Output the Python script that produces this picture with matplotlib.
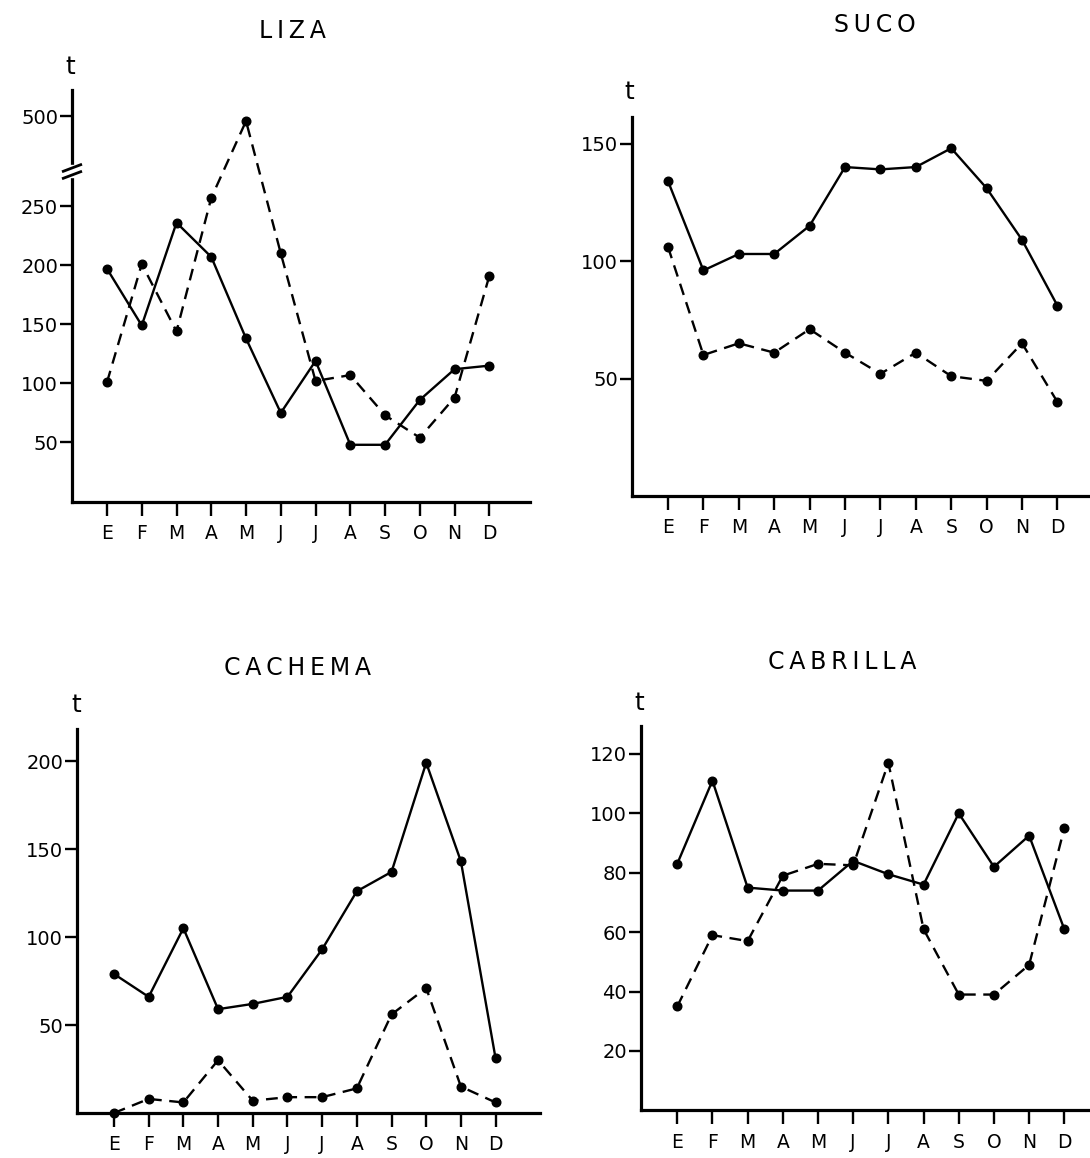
import matplotlib

matplotlib.use("Agg")
import matplotlib.pyplot as plt
import numpy as np
from matplotlib.patches import Rectangle

plt.rcParams["font.family"] = ["DejaVu Sans"]

# meses del año (inicial)
meses = ["E", "F", "M", "A", "M", "J", "J", "A", "S", "O", "N", "D"]

# desembarques mensuales (t): linea continua y linea discontinua
liza_cont = [197, 149, 236, 207, 138, 75, 119, 48, 48, 86, 112, 115]
liza_disc = [101, 201, 144, 257, 496, 210, 102, 107, 73, 54, 88, 191]
liza_ticks = [50, 100, 150, 200, 250, 500]

suco_cont = [134, 96, 103, 103, 115, 140, 139, 140, 148, 131, 109, 81]
suco_disc = [106, 60, 65, 61, 71, 61, 52, 61, 51, 49, 65, 40]
suco_ticks = [50, 100, 150]

cachema_cont = [79, 66, 105, 59, 62, 66, 93, 126, 137, 199, 143, 31]
cachema_disc = [0, 8, 6, 30, 7, 9, 9, 14, 56, 71, 15, 6]
cachema_ticks = [50, 100, 150, 200]

cabrilla_cont = [83, 111, 75, 74, 74, 84, 79.5, 76, 100, 82, 92.5, 61]
cabrilla_disc = [35, 59, 57, 79, 83, 82.5, 117, 61, 39, 39, 49, 95]
cabrilla_ticks = [20, 40, 60, 80, 100, 120]

# tamaño de la figura en pixeles
W, H = 1090, 1158

# corte del eje de LIZA: de 281 salta a 455
CORTE, SALTO = 281, 174


def adelante(v):
    v = np.asarray(v, dtype=float)
    return np.where(v <= CORTE, v, np.where(v < CORTE + SALTO, CORTE, v - SALTO))


def atras(u):
    u = np.asarray(u, dtype=float)
    return np.where(u <= CORTE, u, u + SALTO)


def caja(izq, arriba, der, abajo):
    # pixeles -> fraccion de figura
    return [izq / W, 1 - abajo / H, (der - izq) / W, (abajo - arriba) / H]


def panel(fig, rect, xlim, ymax, cont, disc, yticks, escala=None):
    ax = fig.add_axes(rect)
    if escala is not None:
        ax.set_yscale("function", functions=escala)
    x = np.arange(len(meses))
    ax.plot(x, cont, color="black", lw=1.7, marker="o", ms=6.2, clip_on=False, zorder=3)
    ax.plot(x, disc, color="black", lw=1.7, ls=(0, (5, 3.2)), marker="o", ms=6.2,
            clip_on=False, zorder=3)
    ax.set_xlim(*xlim)
    ax.set_ylim(0, ymax)
    ax.set_xticks(x, meses)
    ax.set_yticks(yticks, [str(v) for v in yticks])
    ax.minorticks_off()
    for lado in ["top", "right"]:
        ax.spines[lado].set_visible(False)
    for lado in ["left", "bottom"]:
        ax.spines[lado].set_linewidth(2.3)
    ax.tick_params(axis="y", direction="out", length=9, width=1.7, labelsize=14, pad=1)
    ax.tick_params(axis="x", direction="out", length=10, width=1.7, labelsize=13.5, pad=6)
    ax.patch.set_visible(False)
    return ax


fig = plt.figure(figsize=(W / 100, H / 100), dpi=100)

# LIZA (arriba izquierda), eje y cortado
ax1 = panel(fig, caja(72, 90, 530, 501.5), (-1.007, 12.17), atras(348.3),
            liza_cont, liza_disc, liza_ticks, escala=(adelante, atras))
f_alto = (501.5 - 165) / (501.5 - 90)
f_bajo = (501.5 - 177) / (501.5 - 90)
ax1.add_patch(Rectangle((-0.025, f_bajo), 0.05, f_alto - f_bajo, transform=ax1.transAxes,
                        color="white", clip_on=False, zorder=5))
for yp in [168, 175]:
    f = (501.5 - yp) / (501.5 - 90)
    ax1.plot([-0.019, 0.019], [f - 0.008, f + 0.008], transform=ax1.transAxes,
             color="black", lw=2.0, clip_on=False, zorder=6)

# SUCO (arriba derecha)
panel(fig, caja(632, 117, 1090, 496), (-1.017, 11.92), 161.3,
      suco_cont, suco_disc, suco_ticks)

# CACHEMA (abajo izquierda)
panel(fig, caja(77, 729, 540, 1113), (-1.066, 12.28), 218.2,
      cachema_cont, cachema_disc, cachema_ticks)

# CABRILLA (abajo derecha)
panel(fig, caja(641, 726, 1090, 1110.4), (-1.03, 11.73), 129.4,
      cabrilla_cont, cabrilla_disc, cabrilla_ticks)

# titulos y unidad "t"
titulos = [("LIZA", 292, 31), ("SUCO", 875, 25), ("CACHEMA", 297, 668), ("CABRILLA", 842, 662)]
for txt, xp, yp in titulos:
    fig.text(xp / W, 1 - yp / H, "\u2009".join(txt), ha="center", va="center", fontsize=17)

for xp, yp in [(70, 67), (629, 92), (76, 705), (639, 703)]:
    fig.text(xp / W, 1 - yp / H, "t", ha="center", va="center", fontsize=18)

fig.savefig("out.png", dpi=100)
